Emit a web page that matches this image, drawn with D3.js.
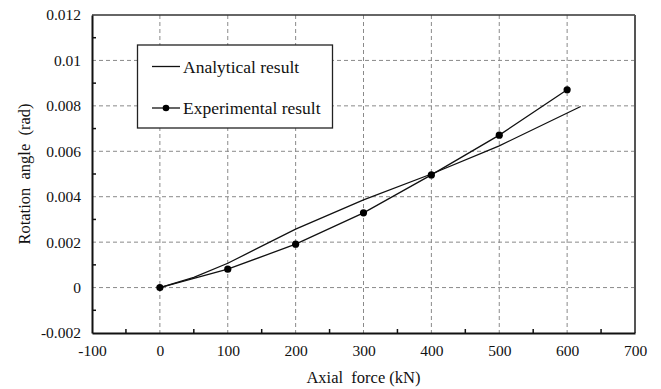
<!DOCTYPE html>
<html>
<head>
<meta charset="utf-8">
<script src="https://cdn.jsdelivr.net/npm/d3@7"></script>
<style>
  html, body { margin: 0; padding: 0; background: #fff; }
  svg { display: block; }
</style>
</head>
<body>
<svg id="chart" width="661" height="389"></svg>
<script>
// Axial force (kN) and rotation angle (rad)
const analyticalForce = [0, 50, 100, 200, 300, 400, 500, 620];
const analyticalAngle = [0, 0.00045, 0.00107, 0.00257, 0.00386, 0.00500, 0.00624, 0.00797];

const experimentalForce = [0, 100, 200, 300, 400, 500, 600];
const experimentalAngle = [0, 0.00081, 0.00191, 0.00329, 0.00496, 0.00671, 0.00871];

const xTicks = [-100, 0, 100, 200, 300, 400, 500, 600, 700];
const yTicks = [-0.002, 0, 0.002, 0.004, 0.006, 0.008, 0.01, 0.012];
const xMinorTicks = [-50, 50, 150, 250, 350, 450, 550, 650];
const yMinorTicks = [-0.001, 0.001, 0.003, 0.005, 0.007, 0.009, 0.011];

const seriesNames = ["Analytical result", "Experimental result"];
const xTitle = "Axial\u00a0 force (kN)";
const yTitle = "Rotation\u00a0 angle\u00a0 (rad)";

const FONT = "Liberation Serif";

const svg = d3.select("#chart");
const plotLeft = 92, plotRight = 635, plotTop = 15, plotBottom = 333;

const x = d3.scaleLinear().domain([-100, 700]).range([plotLeft, plotRight]);
const y = d3.scaleLinear().domain([-0.002, 0.012]).range([plotBottom, plotTop]);

// dashed grid
const grid = svg.append("g").attr("stroke", "#8a8a8a").attr("stroke-width", 1)
  .attr("stroke-dasharray", "4,3").attr("fill", "none");
grid.selectAll("line.gx").data(xTicks.slice(1, -1)).join("line")
  .attr("x1", d => x(d)).attr("x2", d => x(d)).attr("y1", plotTop).attr("y2", plotBottom);
grid.selectAll("line.gy").data(yTicks.slice(1, -1)).join("line")
  .attr("x1", plotLeft).attr("x2", plotRight).attr("y1", d => y(d)).attr("y2", d => y(d));

// frame top/right
svg.append("line").attr("x1", plotLeft).attr("x2", plotRight).attr("y1", plotTop).attr("y2", plotTop)
  .attr("stroke", "#333").attr("stroke-width", 1.5);
svg.append("line").attr("x1", plotRight).attr("x2", plotRight).attr("y1", plotTop).attr("y2", plotBottom)
  .attr("stroke", "#555").attr("stroke-width", 2);

// axes
const xAxis = d3.axisBottom(x).tickValues(xTicks).tickSize(0).tickPadding(12).tickFormat(d => String(d));
const gx = svg.append("g").attr("transform", `translate(0,${plotBottom})`).call(xAxis);
gx.attr("font-family", FONT).attr("font-size", 15.5);
gx.select(".domain").attr("stroke", "#111").attr("stroke-width", 2);
gx.selectAll("text").attr("fill", "#111");

const fmtY = d => d === 0 ? "0" : String(+d.toFixed(3));
const yAxis = d3.axisLeft(y).tickValues(yTicks).tickSize(0).tickPadding(11).tickFormat(fmtY);
const gy = svg.append("g").attr("transform", `translate(${plotLeft},0)`).call(yAxis);
gy.attr("font-family", FONT).attr("font-size", 15.5);
gy.select(".domain").attr("stroke", "#111").attr("stroke-width", 2);
gy.selectAll("text").attr("fill", "#111");

// inward minor ticks
svg.append("g").selectAll("line").data(xMinorTicks).join("line")
  .attr("x1", d => x(d)).attr("x2", d => x(d)).attr("y1", plotBottom).attr("y2", plotBottom - 4)
  .attr("stroke", "#111").attr("stroke-width", 1.5);
svg.append("g").selectAll("line").data(yMinorTicks).join("line")
  .attr("x1", plotLeft).attr("x2", plotLeft + 4).attr("y1", d => y(d)).attr("y2", d => y(d))
  .attr("stroke", "#111").attr("stroke-width", 1.5);

// series
const line = d3.line().x(d => x(d[0])).y(d => y(d[1]));
const analytical = analyticalForce.map((f, i) => [f, analyticalAngle[i]]);
const experimental = experimentalForce.map((f, i) => [f, experimentalAngle[i]]);

svg.append("path").datum(analytical).attr("d", line)
  .attr("fill", "none").attr("stroke", "#111").attr("stroke-width", 1.3);
svg.append("path").datum(experimental).attr("d", line)
  .attr("fill", "none").attr("stroke", "#111").attr("stroke-width", 1.3);
svg.append("g").selectAll("circle").data(experimental).join("circle")
  .attr("cx", d => x(d[0])).attr("cy", d => y(d[1])).attr("r", 3.6).attr("fill", "#000");

// legend
const lg = svg.append("g");
lg.append("rect").attr("x", 137.5).attr("y", 45).attr("width", 195).attr("height", 83)
  .attr("fill", "#fff").attr("stroke", "#222").attr("stroke-width", 1.3);
const rows = [66.5, 108];
rows.forEach((ry, i) => {
  lg.append("line").attr("x1", 152).attr("x2", 180).attr("y1", ry).attr("y2", ry)
    .attr("stroke", "#111").attr("stroke-width", 1.3);
  if (i === 1) lg.append("circle").attr("cx", 166).attr("cy", ry).attr("r", 3.3).attr("fill", "#000");
  lg.append("text").attr("x", 183).attr("y", ry).attr("dy", "0.35em")
    .attr("font-family", FONT).attr("font-size", 17.5).attr("fill", "#111").text(seriesNames[i]);
});

// axis titles
svg.append("text").attr("x", (plotLeft + plotRight) / 2).attr("y", 377).attr("dy", "0.35em")
  .attr("text-anchor", "middle").attr("font-family", FONT).attr("font-size", 16.5)
  .attr("fill", "#111").text(xTitle);
svg.append("text").attr("transform", `translate(24,${(plotTop + plotBottom) / 2}) rotate(-90)`)
  .attr("dy", "0.35em").attr("text-anchor", "middle").attr("font-family", FONT).attr("font-size", 16.5)
  .attr("fill", "#111").text(yTitle);
</script>
</body>
</html>
